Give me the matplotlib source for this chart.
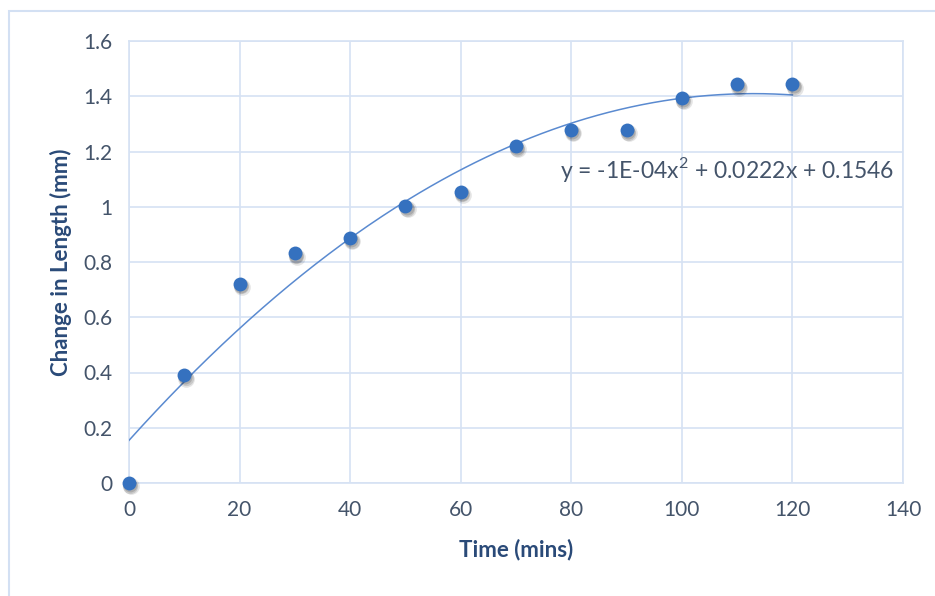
import numpy as np
import matplotlib
matplotlib.use("Agg")
import matplotlib.pyplot as plt
from matplotlib import transforms
from matplotlib.patches import Rectangle

# Measured elongation over time
time_mins = [0, 10, 20, 30, 40, 50, 60, 70, 80, 90, 100, 110, 120]
length_mm = [0.0, 0.39, 0.722, 0.831, 0.887, 1.003, 1.055, 1.22, 1.278, 1.278, 1.394, 1.444, 1.444]

x_ticks = [0, 20, 40, 60, 80, 100, 120, 140]
y_ticks = [0, 0.2, 0.4, 0.6, 0.8, 1.0, 1.2, 1.4, 1.6]
y_tick_labels = ["0", "0.2", "0.4", "0.6", "0.8", "1", "1.2", "1.4", "1.6"]
equation = "y = -1E-04x$^2$ + 0.0222x + 0.1546"

GRID = "#d6e2f3"
MARKER = "#3571bf"
TREND = "#5a8ad0"
TICK_TXT = "#44546a"
TITLE_TXT = "#2a4a78"

plt.rcParams["font.family"] = ["Lato", "DejaVu Sans"]
plt.rcParams["mathtext.fontset"] = "custom"
plt.rcParams["mathtext.rm"] = "Lato"

fig = plt.figure(figsize=(9.35, 5.96), dpi=100, facecolor="white")
ax = fig.add_axes([129 / 935, 1 - 483 / 596, (903 - 129) / 935, (483 - 41) / 596])

# chart-area frame, running off the right and bottom edges
fig.patches.append(Rectangle((9 / 935, -0.1), 1.2, 1 - 11 / 596 + 0.1,
                             transform=fig.transFigure, fill=False,
                             edgecolor="#d3e0f3", linewidth=1.5, zorder=0))

# second-order trendline fitted to the measurements
coef = np.polyfit(time_mins, length_mm, 2)
xs = np.linspace(0, 120, 300)
ax.plot(xs, np.polyval(coef, xs), color=TREND, linewidth=1.1, zorder=3)

# soft drop shadow under each marker
for dx, dy, a, s in [(1.5, -2.5, 0.10, 12), (1.0, -2.0, 0.12, 11), (0.8, -1.5, 0.15, 10)]:
    off = transforms.offset_copy(ax.transData, fig=fig, x=dx, y=dy, units="points")
    ax.plot(time_mins, length_mm, "o", markersize=s, color="black", alpha=a,
            markeredgewidth=0, transform=off, zorder=4, clip_on=False)
ax.plot(time_mins, length_mm, "o", markersize=10, color=MARKER,
        markeredgewidth=0, zorder=5, clip_on=False)

ax.set_xlim(0, 140)
ax.set_ylim(0, 1.6)
ax.set_xticks(x_ticks)
ax.set_yticks(y_ticks)
ax.set_yticklabels(y_tick_labels)
ax.grid(True, color=GRID, linewidth=1.2)
ax.set_axisbelow(True)
for sp in ax.spines.values():
    sp.set_color(GRID)
    sp.set_linewidth(1.2)
ax.tick_params(length=0, labelsize=15, labelcolor=TICK_TXT, pad=12)

ax.set_xlabel("Time (mins)", fontsize=16, fontweight="bold", color=TITLE_TXT, labelpad=14)
ax.set_ylabel("Change in Length (mm)", fontsize=16, fontweight="bold", color=TITLE_TXT, labelpad=8)

# trendline equation, placed in pixel coordinates
ax.text(560, 596 - 169, equation, transform=transforms.IdentityTransform(),
        fontsize=16.5, color=TICK_TXT, ha="left", va="center")

fig.savefig("out.png", dpi=100, facecolor="white")
